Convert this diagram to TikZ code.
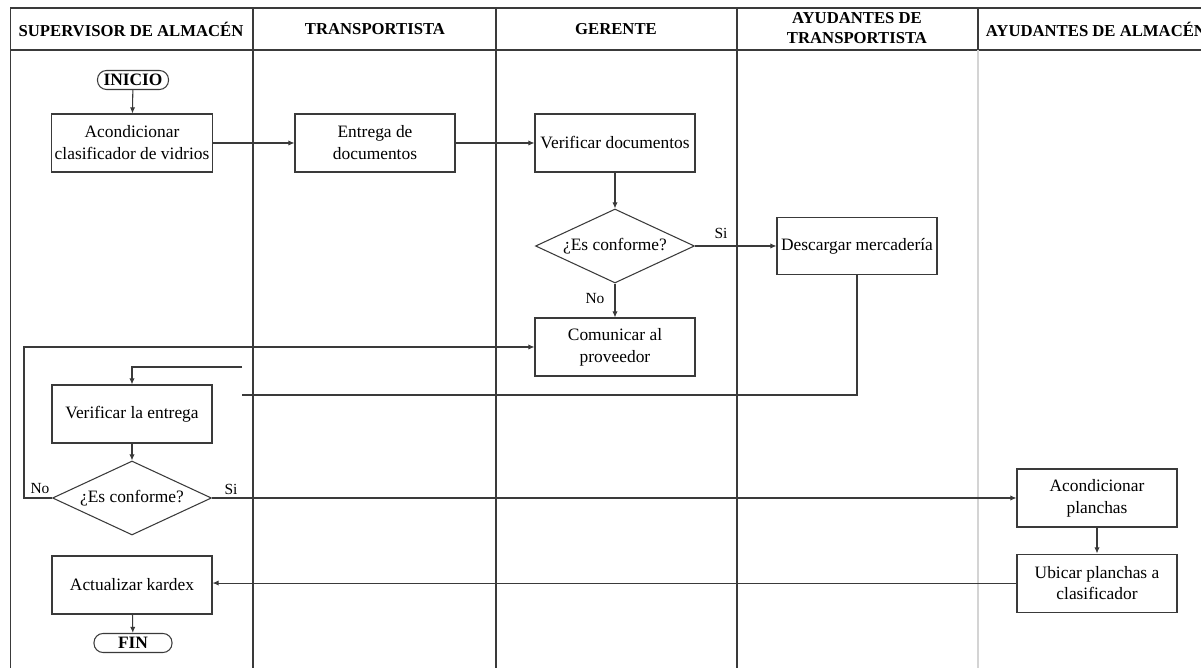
\documentclass[tikz,border=0pt]{standalone}
\usepackage{fontspec}
\setmainfont{Liberation Serif}
\usetikzlibrary{arrows.meta,positioning,shapes.geometric}
\definecolor{Rule}{HTML}{3A3A3A}
\definecolor{Faint}{HTML}{D4D4D4}

\begin{document}
\begin{tikzpicture}[x=0.02cm,y=-0.02cm,font=\fontsize{9.9}{12.5}\selectfont,>={Latex[length=3.5pt,width=3pt]}]
  \tikzstyle{act}=[draw=Rule,line width=0.6pt,minimum width=3.2cm,minimum height=1.16cm,align=center,inner sep=2pt]
  \tikzstyle{dec}=[draw=Rule,line width=0.6pt,diamond,aspect=2.15,minimum width=3.18cm,minimum height=1.48cm,inner sep=0pt]
  \tikzstyle{term}=[draw=Rule,line width=0.6pt,rounded corners=0.18cm,minimum height=0.38cm,inner sep=1pt,font=\fontsize{9.9}{11}\selectfont\bfseries]
  \tikzstyle{head}=[font=\fontsize{9.5}{11}\selectfont\bfseries,align=center]
  \tikzstyle{flow}=[draw=Rule,line width=0.6pt]
  \tikzstyle{lbl}=[font=\fontsize{8.8}{10}\selectfont,inner sep=1pt]
  \clip (0,0) rectangle (1201,668);
  \fill[white] (0,0) rectangle (1201,668);
  % lanes
  \draw[Rule,line width=1.1pt] (1210,8) -| (10.5,668);
  \draw[Rule,line width=1.1pt] (10.5,50) -- (1210,50);
  \foreach \lx in {253,496,737}
    \draw[Rule,line width=0.9pt] (\lx,8) -- (\lx,668);
  \draw[Rule,line width=0.9pt] (978,8) -- (978,50);
  \draw[Faint,line width=0.8pt] (978,50) -- (978,668);
  \node[head] (h1) at (131,29) {SUPERVISOR DE ALMACÉN};
  \node[head] (h2) at (375,29) {TRANSPORTISTA};
  \node[head] (h3) at (616,29) {GERENTE};
  \node[head] (h4) at (857,28) {AYUDANTES DE\\TRANSPORTISTA};
  \node[head] (h5) at (1096,29) {AYUDANTES DE ALMACÉN};
  % activities
  \node[term,minimum width=1.42cm] (inicio) at (133,80) {INICIO};
  \node[act] (acond) at (132,143) {Acondicionar\\clasificador de vidrios};
  \node[act] (entrega) at (375,143) {Entrega de\\documentos};
  \node[act] (verdoc) at (615,143) {Verificar documentos};
  \node[dec] (conf1) at (615,246) {¿Es conforme?};
  \node[act,minimum height=1.14cm] (descarga) at (857,246) {Descargar mercadería};
  \node[act] (comunicar) at (615,347) {Comunicar al\\proveedor};
  \node[act] (verent) at (132,414) {Verificar la entrega};
  \node[dec] (conf2) at (132,498) {¿Es conforme?};
  \node[act] (acplan) at (1097,498) {Acondicionar\\planchas};
  \node[act,below=0.52cm of acplan] (ubicar) {Ubicar planchas a\\clasificador};
  \node[act] (kardex) at (132,585) {Actualizar kardex};
  \node[term,minimum width=1.56cm] (fin) at (133,643) {FIN};
  % free ends of the return line
  \coordinate (tramoA) at (242,395);
  \coordinate (tramoB) at (242,367);
  \coordinate (vuelta) at (24,498);
  % connectors
  \draw[flow,->] (inicio) -- (acond);
  \draw[flow,->] (acond) -- (entrega);
  \draw[flow,->] (entrega) -- (verdoc);
  \draw[flow,->] (verdoc) -- (conf1);
  \draw[flow,->] (conf1.east) -- (descarga.west);
  \draw[flow,->] (conf1.south) -- (comunicar.north);
  \draw[flow] (descarga.south) |- (tramoA);
  \draw[flow,->] (tramoB) -| (verent.north);
  \draw[flow,->] (verent) -- (conf2);
  \draw[flow,->] (conf2.west) -- (vuelta) |- (comunicar.west);
  \draw[flow,->] (conf2.east) -- (acplan.west);
  \draw[flow,->] (acplan) -- (ubicar);
  \draw[flow,->] (ubicar.west) -- (ubicar.west -| kardex.east);
  \draw[flow,->] (kardex) -- (fin);
  % branch labels
  \node[lbl] (si1) at (721,233) {Si};
  \node[lbl] (no1) at (595,299) {No};
  \node[lbl] (no2) at (40,489) {No};
  \node[lbl] (si2) at (231,489) {Si};
\end{tikzpicture}
\end{document}
